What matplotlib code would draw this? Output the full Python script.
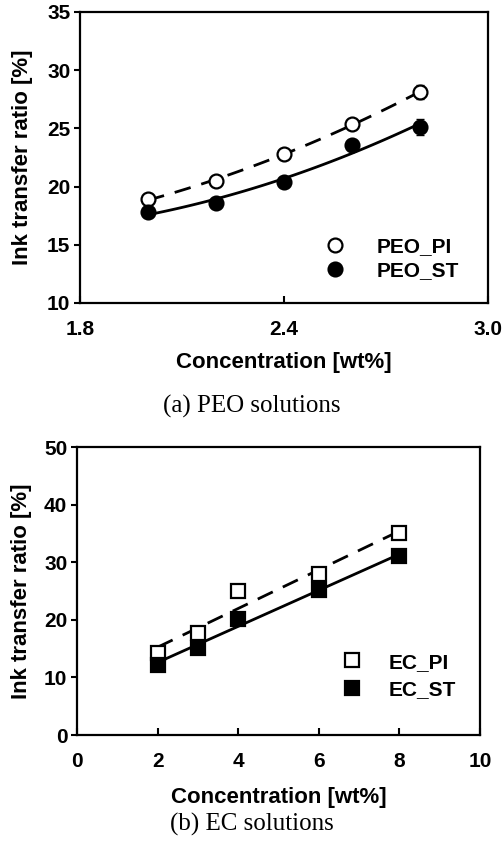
import numpy as np
import matplotlib
matplotlib.use('Agg')
import matplotlib.pyplot as plt

plt.rcParams['font.family'] = ['Liberation Sans', 'DejaVu Sans']
plt.rcParams['font.weight'] = 'bold'

# PEO data
peo_x = [2.0, 2.2, 2.4, 2.6, 2.8]
peo_pi = [18.9, 20.5, 22.8, 25.4, 28.1]
peo_st = [17.8, 18.6, 20.4, 23.6, 25.1]
peo_pi_err = [0.2, 0.2, 0.2, 0.2, 0.6]
peo_st_err = [0.2, 0.2, 0.2, 0.2, 0.7]

# EC data
ec_x = [2, 3, 4, 6, 8]
ec_pi = [14.2, 17.7, 25.0, 28.0, 35.0]
ec_st = [12.2, 15.1, 20.2, 25.2, 31.0]

W, H = 504, 847
fig = plt.figure(figsize=(W / 100, H / 100), dpi=100)

def box(l, t, r, b):
    return [l / W, 1 - b / H, (r - l) / W, (b - t) / H]

ax1 = fig.add_axes(box(80, 12, 488, 303))
ax2 = fig.add_axes(box(77, 447, 480, 735))

mk = dict(markersize=10, markeredgewidth=1.6, markeredgecolor='black', linestyle='none')

# top panel
xf = np.linspace(2.0, 2.8, 100)
c_pi = np.polyfit(peo_x, peo_pi, 2)
c_st = np.polyfit(peo_x, peo_st, 2)
ax1.plot(xf, np.polyval(c_pi, xf), 'k--', lw=2, dashes=(6, 4))
ax1.plot(xf, np.polyval(c_st, xf), 'k-', lw=2)
ax1.errorbar(peo_x, peo_pi, yerr=peo_pi_err, fmt='none', ecolor='black', elinewidth=1.2, capsize=3)
ax1.errorbar(peo_x, peo_st, yerr=peo_st_err, fmt='none', ecolor='black', elinewidth=1.2, capsize=3)
ax1.plot(peo_x, peo_pi, marker='o', mfc='white', label='PEO_PI', **mk)
ax1.plot(peo_x, peo_st, marker='o', mfc='black', label='PEO_ST', **mk)
ax1.set_xlim(1.8, 3.0)
ax1.set_ylim(10, 35)
ax1.set_xticks([1.8, 2.4, 3.0])
ax1.set_xticklabels(['1.8', '2.4', '3.0'])
ax1.set_yticks([10, 15, 20, 25, 30, 35])

# bottom panel
xl = np.linspace(2, 8, 50)
l_pi = np.polyfit(ec_x, ec_pi, 1)
l_st = np.polyfit(ec_x, ec_st, 1)
ax2.plot(xl, np.polyval(l_pi, xl), 'k--', lw=2, dashes=(6, 4))
ax2.plot(xl, np.polyval(l_st, xl), 'k-', lw=2)
ax2.plot(ec_x, ec_pi, marker='s', mfc='white', label='EC_PI', **mk)
ax2.plot(ec_x, ec_st, marker='s', mfc='black', label='EC_ST', **mk)
ax2.set_xlim(0, 10)
ax2.set_ylim(0, 50)
ax2.set_xticks([0, 2, 4, 6, 8, 10])
ax2.set_yticks([0, 10, 20, 30, 40, 50])

for ax in (ax1, ax2):
    for s in ax.spines.values():
        s.set_linewidth(1.6)
    ax.tick_params(axis='x', direction='in', length=5, width=1.5, labelsize=15, pad=12)
    ax.tick_params(axis='y', direction='out', length=4, width=1.5, labelsize=15, pad=3)
    ax.set_xlabel('Concentration [wt%]', fontsize=16, fontweight='bold')
    ax.set_ylabel('Ink transfer ratio [%]', fontsize=16, fontweight='bold')

ax1.xaxis.set_label_coords(0.5, -0.17)
ax1.yaxis.set_label_coords(-0.115, 0.5)
ax2.xaxis.set_label_coords(0.5, -0.18)
ax2.yaxis.set_label_coords(-0.112, 0.5)

ax1.legend(loc='lower left', frameon=False, fontsize=15, handletextpad=1.4,
           labelspacing=0.25, bbox_to_anchor=(0.575, 0.05), borderaxespad=0, handlelength=1.2)
ax2.legend(loc='lower left', frameon=False, fontsize=15, handletextpad=1.15,
           labelspacing=0.4, bbox_to_anchor=(0.63, 0.096), borderaxespad=0, handlelength=1.2)

fig.text(0.5, 1 - 406 / H, '(a) PEO solutions', ha='center', va='center',
         family='Liberation Serif', fontsize=18, fontweight='normal')
fig.text(0.5, 1 - 824 / H, '(b) EC solutions', ha='center', va='center',
         family='Liberation Serif', fontsize=18, fontweight='normal')

fig.savefig('out.png', dpi=100)
